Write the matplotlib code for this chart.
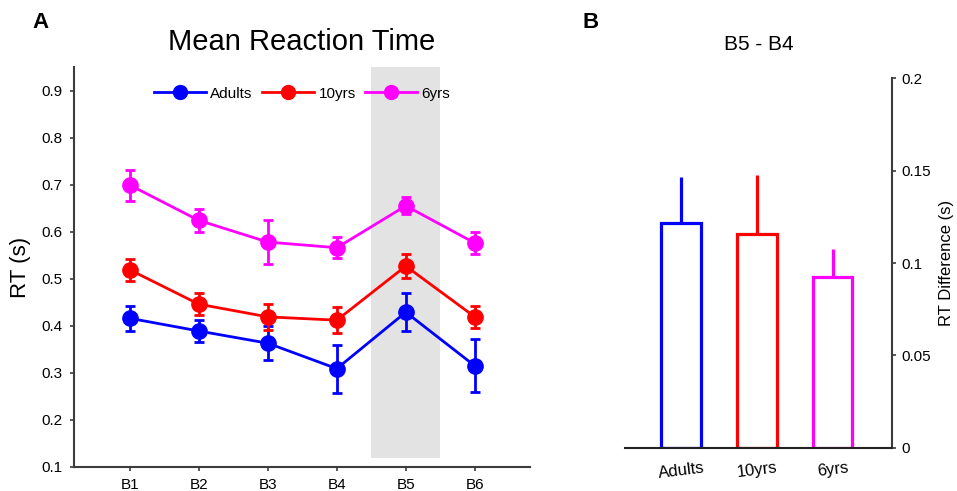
import matplotlib.pyplot as plt
import numpy as np
from matplotlib.lines import Line2D

plt.rcParams['font.family'] = ['Liberation Sans', 'DejaVu Sans']

# ---------------- DATA ----------------
blocks = ["B1", "B2", "B3", "B4", "B5", "B6"]
groups = ["Adults", "10yrs", "6yrs"]
colors = ["#0000ff", "#ff0000", "#ff00ff"]

rt_adults = [0.416, 0.389, 0.363, 0.309, 0.429, 0.315]
err_adults = [0.026, 0.024, 0.036, 0.051, 0.040, 0.056]
rt_10yrs = [0.519, 0.446, 0.419, 0.412, 0.527, 0.419]
err_10yrs = [0.024, 0.023, 0.028, 0.028, 0.025, 0.024]
rt_6yrs = [0.699, 0.624, 0.578, 0.566, 0.655, 0.576]
err_6yrs = [0.033, 0.025, 0.046, 0.022, 0.018, 0.023]

diff_vals = [0.1215, 0.1155, 0.0923]
diff_errs = [0.025, 0.032, 0.0153]

spine_col = "#3c3c3c"

fig = plt.figure(figsize=(9.57, 4.91), dpi=100)

# ---------------- PANEL A ----------------
axA = fig.add_axes([0.0773, 0.0489, 0.4765, 0.8146])
x = np.arange(1, len(blocks) + 1)
axA.axvspan(4.5, 5.5, ymin=(0.12 - 0.1) / 0.85, ymax=1.0, color="#e3e3e3", lw=0, zorder=0)
handles = []
for vals, errs, col, name in zip([rt_adults, rt_10yrs, rt_6yrs],
                                 [err_adults, err_10yrs, err_6yrs], colors, groups):
    axA.errorbar(x, vals, yerr=errs, color=col, marker="o", markersize=11, lw=2,
                 elinewidth=2, capsize=3.5, capthick=2, zorder=3)
    handles.append(Line2D([], [], color=col, marker="o", markersize=10, lw=2, label=name))
axA.set_xlim(0.19, 6.8)
axA.set_ylim(0.1, 0.95)
axA.set_xticks(x)
axA.set_xticklabels(blocks)
axA.set_yticks(np.arange(0.1, 0.91, 0.1))
axA.set_yticklabels(["%.1f" % v for v in np.arange(0.1, 0.91, 0.1)])
axA.tick_params(labelsize=11, direction="out", length=3, width=1.2, color=spine_col, pad=5)
axA.tick_params(axis="x", pad=5)
for s in ["top", "right"]:
    axA.spines[s].set_visible(False)
for s in ["left", "bottom"]:
    axA.spines[s].set_color(spine_col)
    axA.spines[s].set_linewidth(1.5)
axA.set_ylabel("RT (s)", fontsize=16, labelpad=8)
axA.set_title("Mean Reaction Time", fontsize=21, pad=12)
axA.legend(handles=handles, loc="upper center", bbox_to_anchor=(0.5, 0.985), ncol=3,
           frameon=False, fontsize=11, handlelength=3.4, handletextpad=0.3,
           columnspacing=0.6)
fig.text(0.034, 0.955, "A", fontsize=16, fontweight="bold", va="center")

# ---------------- PANEL B ----------------
axB = fig.add_axes([0.653, 0.0876, 0.279, 0.7535])
xb = np.arange(len(groups))
for i in range(len(groups)):
    axB.bar(xb[i], diff_vals[i], width=0.52, facecolor="white", edgecolor=colors[i],
            linewidth=2.3, zorder=2)
    axB.errorbar(xb[i], diff_vals[i], yerr=[[0], [diff_errs[i]]], color=colors[i],
                 elinewidth=2.3, capsize=0, fmt="none", zorder=1)
axB.set_xlim(-0.74, 2.78)
axB.set_ylim(0, 0.2)
axB.set_xticks(xb)
axB.set_xticklabels(groups, rotation=7, fontsize=12)
axB.tick_params(axis="x", length=0, pad=9)
axB.yaxis.tick_right()
axB.yaxis.set_label_position("right")
axB.set_yticks([0, 0.05, 0.1, 0.15, 0.2])
axB.set_yticklabels(["0", "0.05", "0.1", "0.15", "0.2"])
axB.tick_params(axis="y", labelsize=11, direction="out", length=3, width=1.2, color=spine_col)
for s in ["top", "left"]:
    axB.spines[s].set_visible(False)
axB.spines["right"].set_color(spine_col)
axB.spines["right"].set_linewidth(1.5)
axB.spines["bottom"].set_color("#222222")
axB.spines["bottom"].set_linewidth(1.5)
axB.set_ylabel("RT Difference (s)", fontsize=12, labelpad=6)
axB.set_title("B5 - B4", fontsize=15, pad=20)
fig.text(0.609, 0.955, "B", fontsize=16, fontweight="bold", va="center")

fig.savefig("out.png", dpi=100)
